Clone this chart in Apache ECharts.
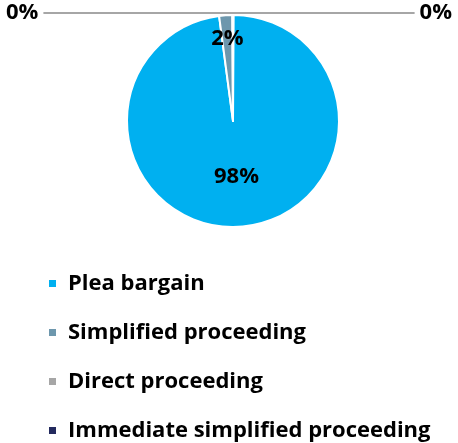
<!DOCTYPE html>
<html>
<head>
<meta charset="utf-8">
<script src="https://cdn.jsdelivr.net/npm/echarts@6/dist/echarts.min.js"></script>
<style>html,body{margin:0;padding:0;background:#fff;}#c{width:458px;height:443px;}</style>
</head>
<body>
<div id="c"></div>
<script>
// Legend order categories
const categories = ['Plea bargain', 'Simplified proceeding', 'Direct proceeding', 'Immediate simplified proceeding'];
// Shares (percent)
const values = [98, 2, 0.1, 0.1];
const colors = ['#00B0F0', '#6D97AD', '#A6A6A6', '#232A5E'];

const FONT = '"Open Sans"';
const chart = echarts.init(document.getElementById('c'));

// draw order around the pie: Immediate first (just right of top), then Plea, Simplified, Direct (just left of top)
const drawOrder = [3, 0, 1, 2];

function mainItem(i) {
  const item = {name: categories[i], value: values[i], itemStyle: {color: colors[i]}};
  if (i === 0) {
    item.label = {show: true, position: 'inside'};
  } else if (i === 1) {
    item.label = {show: false};
    item.labelLine = {show: false};
  } else {
    item.label = {show: true, position: 'outside', alignTo: 'edge', edgeDistance: 6};
    item.labelLine = {show: true, length: 2, length2: 10, maxSurfaceAngle: 180, lineStyle: {color: '#A6A6A6', width: 2}};
  }
  return item;
}
function labelItem(i) {
  return {
    name: categories[i], value: values[i],
    itemStyle: {color: 'rgba(0,0,0,0)', borderWidth: 0},
    label: {show: i === 1, position: 'inside'},
    labelLine: {show: false}
  };
}

chart.setOption({
  animation: false,
  legend: {
    data: categories,
    orient: 'vertical',
    left: 47,
    top: 271,
    height: 190,
    padding: 0,
    itemWidth: 9,
    itemHeight: 9,
    itemGap: 24,
    icon: 'rect',
    textStyle: {fontFamily: FONT, fontWeight: 'bold', fontSize: 22, color: '#000', lineHeight: 25, padding: [0, 0, 0, 6]}
  },
  series: [{
    type: 'pie',
    center: [233, 121],
    radius: [0, 106],
    startAngle: 90,
    clockwise: true,
    percentPrecision: 0,
    avoidLabelOverlap: true,
    minShowLabelAngle: 0,
    itemStyle: {borderColor: '#fff', borderWidth: 2},
    label: {formatter: '{d}%', fontFamily: FONT, fontWeight: 'bold', fontSize: 22, color: '#000'},
    emphasis: {disabled: true},
    data: drawOrder.map(mainItem)
  }, {
    type: 'pie',
    center: [233, 121],
    radius: [52, 106],
    startAngle: 90,
    clockwise: true,
    percentPrecision: 0,
    silent: true,
    avoidLabelOverlap: false,
    label: {formatter: '{d}%', fontFamily: FONT, fontWeight: 'bold', fontSize: 22, color: '#000'},
    emphasis: {disabled: true},
    data: drawOrder.map(labelItem)
  }]
});
</script>
</body>
</html>
